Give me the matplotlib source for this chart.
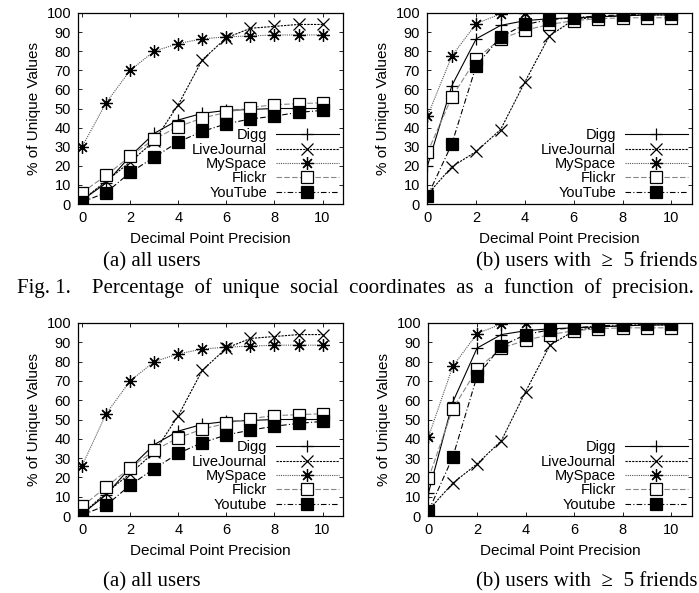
import matplotlib
matplotlib.use("Agg")
import matplotlib.pyplot as plt

plt.rcParams["font.family"] = ["Liberation Sans", "DejaVu Sans"]
plt.rcParams["font.size"] = 10.5

precision = list(range(11))

# Fig 1 (top)
top_all = {
    "Digg":        [2, 11, 25, 37, 44, 47.5, 49, 49.5, 50, 50, 50],
    "LiveJournal": [2, 12, 22, 33, 52, 75.5, 87, 92, 93, 94, 94],
    "MySpace":     [30, 53, 70, 80, 84, 86.5, 87.5, 88, 88.5, 88.5, 88.5],
    "Flickr":      [6, 15, 25, 34, 40.5, 45, 48, 50.5, 52, 52.5, 53],
    "YouTube":     [1, 6, 16.5, 24.5, 32.5, 38, 42, 44.5, 46, 48, 49],
}
top_friends = {
    "Digg":        [20, 62, 86.5, 93.5, 96, 97, 97.5, 98, 98.5, 99, 99],
    "LiveJournal": [5, 19.5, 27.5, 39, 64, 88, 96.5, 98, 98.5, 99, 99],
    "MySpace":     [46, 77.5, 94.5, 99.5, 100, 100, 100, 100, 100, 100, 100],
    "Flickr":      [27, 56, 76, 86.5, 91, 94, 96, 97, 97.5, 97.5, 97.5],
    "YouTube":     [4, 31.5, 72.5, 87.5, 94, 96.5, 97.5, 98.5, 99, 99.5, 99.5],
}

# second figure (bottom)
bottom_all = {
    "Digg":        [1, 11, 25, 37, 44, 47.5, 49, 49.5, 50, 50, 50],
    "LiveJournal": [1, 12, 22, 33, 52, 75.5, 87, 92, 93, 94, 94],
    "MySpace":     [26, 53, 70, 80, 84, 86.5, 87.5, 88, 88.5, 88.5, 88.5],
    "Flickr":      [5, 15, 25, 34, 40.5, 45, 48, 50.5, 52, 52.5, 53],
    "Youtube":     [0.5, 5.5, 16, 24.5, 32.5, 38, 42, 44.5, 46.5, 48, 49],
}
bottom_friends = {
    "Digg":        [12, 59, 87, 94, 96, 97, 97.5, 98, 98.5, 99, 99],
    "LiveJournal": [3, 17, 27, 39, 64.5, 88.5, 96, 98, 98.5, 99, 99],
    "MySpace":     [41, 77.5, 94.5, 99.5, 100, 100, 100, 100, 100, 100, 100],
    "Flickr":      [19.5, 55.5, 76, 87, 91, 94, 96, 97, 97.5, 97.5, 97.5],
    "Youtube":     [2.5, 30.5, 72.5, 88, 94, 96.5, 97.5, 98.5, 99, 99.5, 99.5],
}

asterisk = (8, 2, 0)
styles = [
    dict(color="black", ls="-", marker="+", ms=9, mfc="none"),
    dict(color="black", ls=(0, (2, 1)), marker="x", ms=8, mfc="none"),
    dict(color="#555555", ls=(0, (1, 1)), marker=asterisk, ms=9, mec="black", mfc="none"),
    dict(color="#888888", ls=(0, (5, 2)), marker="s", ms=8, mec="black", mfc="white"),
    dict(color="black", ls=(0, (5, 2, 1, 2)), marker="s", ms=8, mec="black", mfc="black"),
]


def draw(ax, data, xmin):
    for (name, vals), st in zip(data.items(), styles):
        ax.plot(precision, vals, lw=0.8, mew=0.9, label=name, **st)
    ax.set_xlim(xmin, 10.85)
    ax.set_ylim(0, 100)
    ax.set_xticks(range(0, 11, 2))
    ax.set_yticks(range(0, 101, 10))
    ax.tick_params(direction="in", top=True, right=True, length=3, pad=5, width=0.6)
    for s in ax.spines.values():
        s.set_linewidth(0.9)
    ax.set_xlabel("Decimal Point Precision", fontsize=11, labelpad=5)
    ax.set_ylabel("% of Unique Values", fontsize=11, labelpad=4)
    ax.legend(loc="lower right", frameon=False, markerfirst=False, handlelength=4.3,
              labelspacing=0.02, borderaxespad=0.1, handletextpad=0.6, borderpad=0.2)


fig = plt.figure(figsize=(6.99, 5.93), dpi=100)
W, H = 699, 593


def add_axes(left, top, right, bottom):
    return fig.add_axes([left / W, 1 - bottom / H, (right - left) / W, (bottom - top) / H])


draw(add_axes(78, 13, 343, 204), top_all, -0.17)
draw(add_axes(427, 13, 692, 204), top_friends, -0.02)
draw(add_axes(78, 323, 343, 516), bottom_all, -0.17)
draw(add_axes(428, 323, 692, 516), bottom_friends, -0.02)

serif = ["Liberation Serif", "DejaVu Serif"]
cap = 15
sub_b = "(b) users with  \u2265  5 friends"
fig.text(152 / W, 1 - 262 / H, "(a) all users", family=serif, fontsize=cap, ha="center", va="center")
fig.text(697 / W, 1 - 262 / H, sub_b, family=serif, fontsize=cap, ha="right", va="center")
fig.text(355 / W, 1 - 288 / H, "Fig. 1.    Percentage  of  unique  social  coordinates  as  a  function  of  precision.",
         family=serif, fontsize=cap, ha="center", va="center")
fig.text(152 / W, 1 - 582 / H, "(a) all users", family=serif, fontsize=cap, ha="center", va="center")
fig.text(697 / W, 1 - 582 / H, sub_b, family=serif, fontsize=cap, ha="right", va="center")

fig.savefig("out.png", dpi=100)
